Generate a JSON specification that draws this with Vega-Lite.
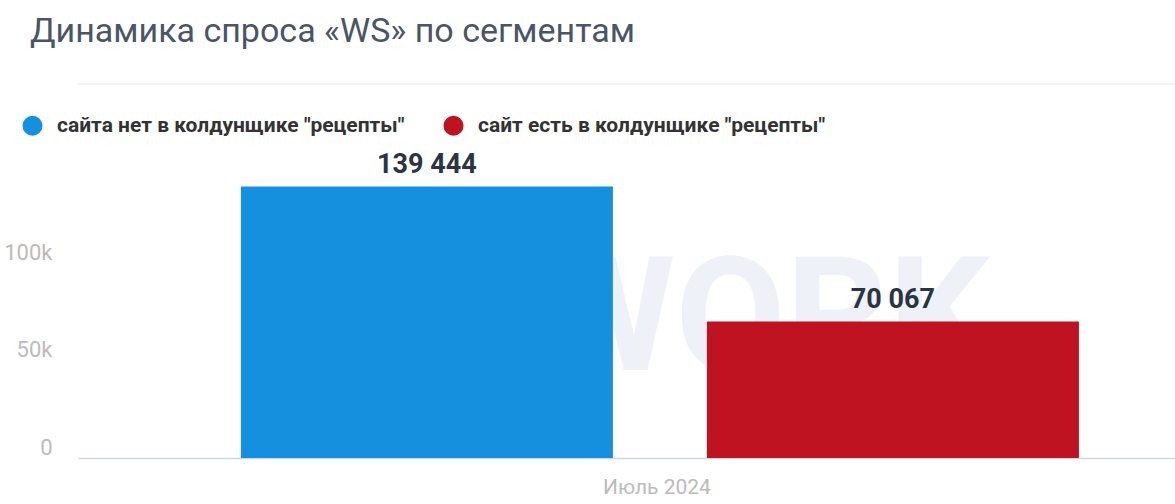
{
  "$schema": "https://vega.github.io/schema/vega-lite/v6.json",
  "width": 1097,
  "height": 292,
  "autosize": {"type": "none"},
  "padding": {"left": 78, "top": 166, "right": 0, "bottom": 46},
  "background": "#ffffff",
  "title": {
    "text": "Динамика спроса «WS» по сегментам",
    "anchor": "start",
    "frame": "group",
    "baseline": "alphabetic",
    "offset": 8,
    "dx": -48,
    "font": "Roboto",
    "fontSize": 34,
    "fontWeight": "normal",
    "color": "#4a5568"
  },
  "data": {
    "values": [
      {"month": "Июль 2024", "segment": "сайта нет в колдунщике \"рецепты\"", "value": 139444},
      {"month": "Июль 2024", "segment": "сайт есть в колдунщике \"рецепты\"", "value": 70067}
    ]
  },
  "layer": [
    {
      "data": {"values": [{"mark": "separator"}]},
      "mark": {"type": "rule", "color": "#e1e7ef", "strokeWidth": 1, "clip": false},
      "encoding": {"y": {"datum": 192100, "type": "quantitative"}}
    },
    {
      "data": {"values": [{"mark": "watermark"}]},
      "mark": {"type": "text", "text": "WORK", "font": "Roboto", "fontSize": 160, "fontWeight": "bold", "align": "right", "baseline": "alphabetic", "dx": 330, "fill": "#c8d4e6", "opacity": 0.3},
      "encoding": {
        "x": {"datum": "Июль 2024", "type": "nominal"},
        "y": {"datum": 45200, "type": "quantitative"}
      }
    },
    {
      "mark": {"type": "bar"},
      "encoding": {
        "x": {
          "field": "month", "type": "nominal",
          "scale": {"paddingOuter": 0.1545, "paddingInner": 0, "align": 0.629},
          "axis": {
            "title": null, "labelAngle": 0, "ticks": false, "tickSize": 0,
            "domainColor": "#ccd6eb", "domainWidth": 1.5,
            "labelFont": "Roboto", "labelFontSize": 21, "labelColor": "#bbbbbb",
            "labelBaseline": "alphabetic", "labelPadding": 35, "labelOffset": 51
          }
        },
        "xOffset": {
          "field": "segment", "type": "nominal",
          "sort": ["сайта нет в колдунщике \"рецепты\"", "сайт есть в колдунщике \"рецепты\""],
          "scale": {"paddingInner": 0.2017, "paddingOuter": 0}
        },
        "y": {
          "field": "value", "type": "quantitative",
          "scale": {"domain": [0, 150000], "nice": false},
          "axis": {
            "title": null, "values": [0, 50000, 100000, 150000],
            "labelExpr": "datum.value >= 150000 ? '' : (datum.value == 0 ? '0' : (datum.value / 1000) + 'k')",
            "domain": false, "ticks": false, "tickSize": 0,
            "gridColor": "#e3e3e3", "gridWidth": 1.5,
            "labelFont": "Roboto", "labelFontSize": 22, "labelColor": "#bbbbbb",
            "labelBaseline": "alphabetic", "labelOffset": -4, "labelPadding": 26
          }
        },
        "color": {
          "field": "segment", "type": "nominal",
          "sort": ["сайта нет в колдунщике \"рецепты\"", "сайт есть в колдунщике \"рецепты\""],
          "scale": {
            "domain": ["сайта нет в колдунщике \"рецепты\"", "сайт есть в колдунщике \"рецепты\""],
            "range": ["#1490df", "#c01321"]
          },
          "legend": {
            "title": null, "orient": "none", "legendX": -56, "legendY": -51,
            "direction": "horizontal", "padding": 0,
            "symbolType": "circle", "symbolSize": 400, "symbolStrokeWidth": 0,
            "labelFont": "Roboto", "labelFontSize": 21, "labelFontWeight": "bold",
            "labelColor": "#333333", "labelOffset": 14, "labelLimit": 600,
            "columnPadding": 38
          }
        }
      }
    },
    {
      "transform": [{"calculate": "replace(format(datum.value, ','), ',', ' ')", "as": "label"}],
      "mark": {"type": "text", "font": "Roboto", "fontSize": 27, "fontWeight": "bold", "color": "#2b3443", "baseline": "alphabetic", "dy": -14},
      "encoding": {
        "x": {"field": "month", "type": "nominal"},
        "xOffset": {"field": "segment", "type": "nominal", "sort": ["сайта нет в колдунщике \"рецепты\"", "сайт есть в колдунщике \"рецепты\""]},
        "y": {"field": "value", "type": "quantitative"},
        "text": {"field": "label"}
      }
    }
  ],
  "config": {
    "view": {"stroke": null},
    "font": "Roboto"
  }
}
